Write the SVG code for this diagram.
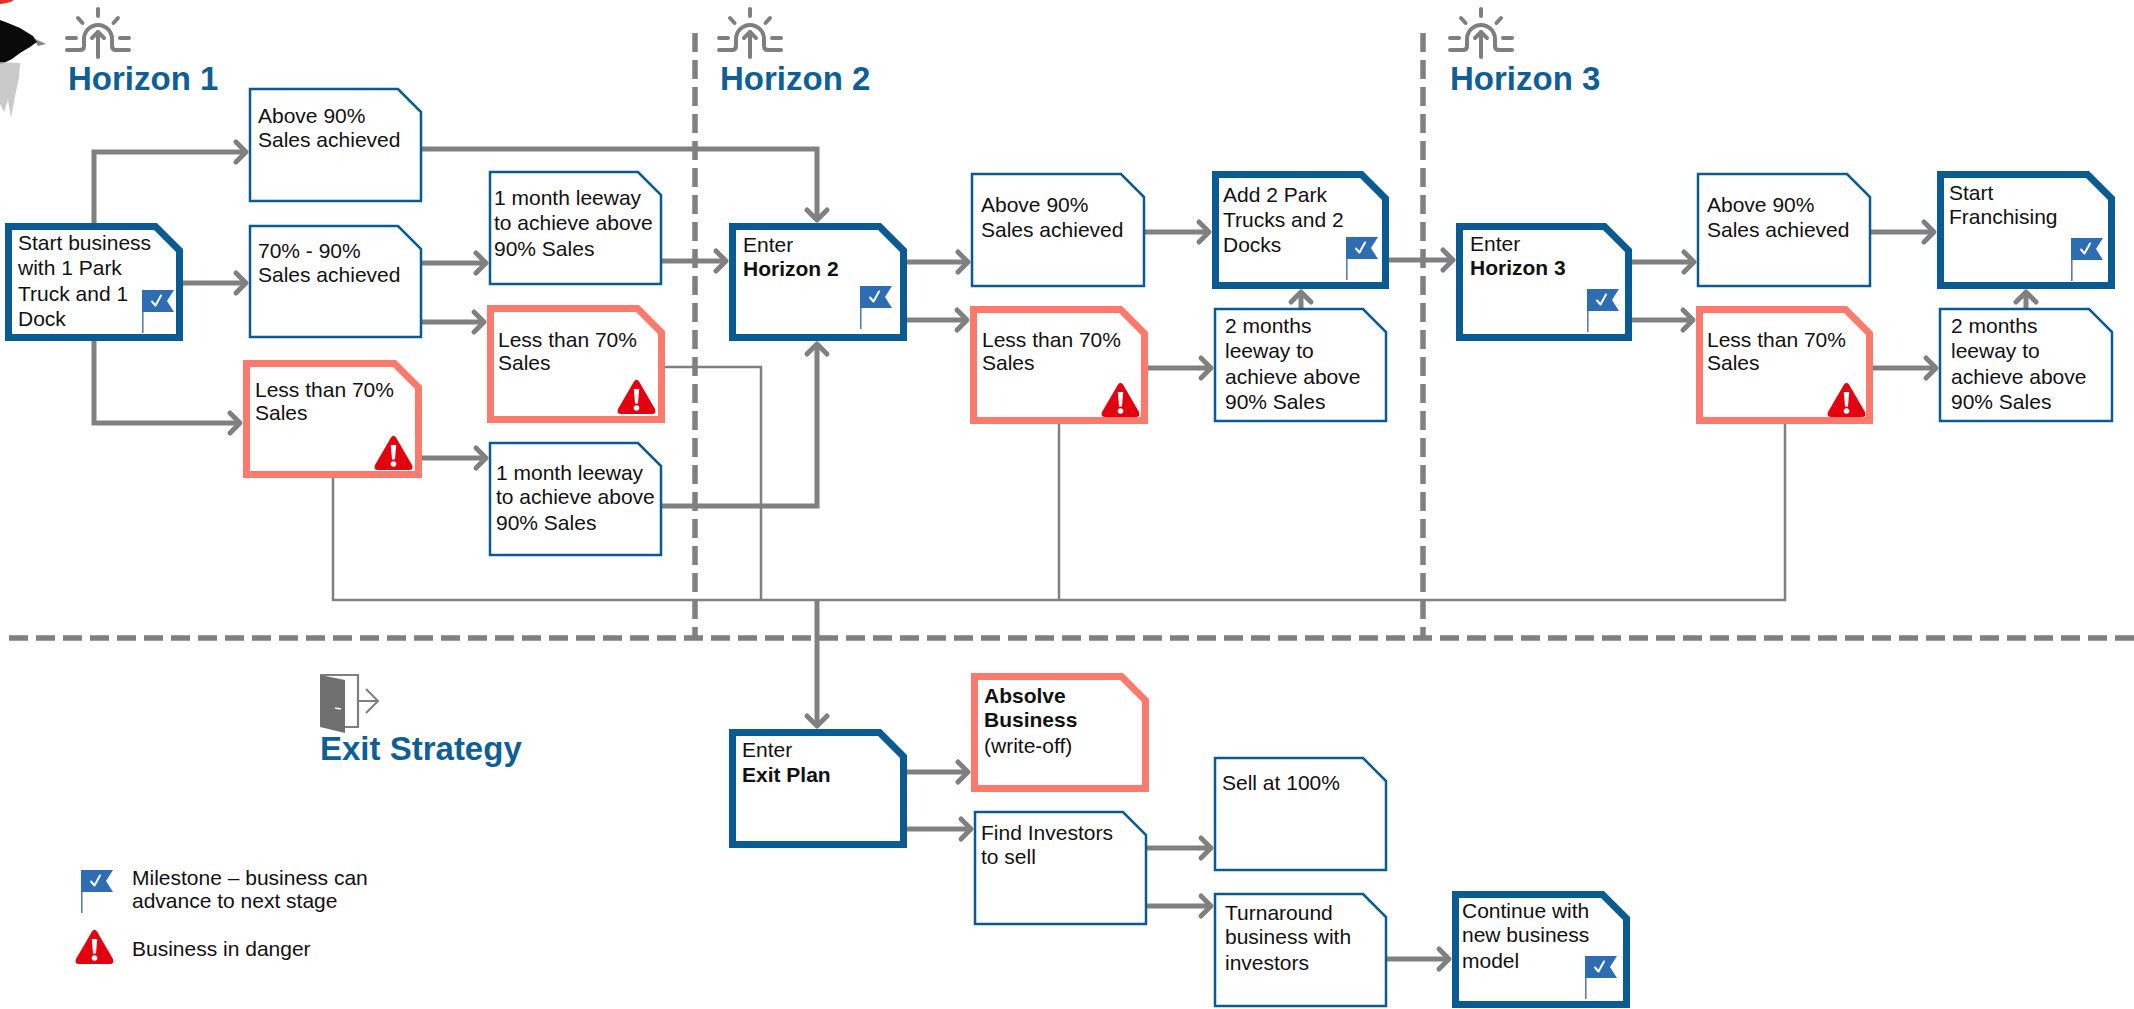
<svg xmlns="http://www.w3.org/2000/svg" xmlns:xlink="http://www.w3.org/1999/xlink" width="2134" height="1009" viewBox="0 0 2134 1009">
  <style>
    text { font-family: "Liberation Sans", Arial, sans-serif; fill: #111; }
    .t { font-size: 21px; }
    .b { font-weight: bold; }
    .hdr { font-size: 33px; font-weight: bold; fill: #0f5f96; }
    .ms { fill: #fff; stroke: #0a5b92; stroke-width: 7; stroke-linejoin: miter; }
    .st { fill: #fff; stroke: #0a5b92; stroke-width: 2.5; }
    .dg { fill: #fff; stroke: #fa7b6d; stroke-width: 7; }
    .cn { fill: none; stroke: #808080; stroke-width: 5; }
    .cn-arr { marker-end: url(#arr); }
    .bus { fill: none; stroke: #808080; stroke-width: 2.5; }
    .div { fill: none; stroke: #808080; stroke-width: 5.5; stroke-dasharray: 19 8; }
    .ico { fill: none; stroke: #7f7f7f; stroke-width: 4; stroke-linecap: round; stroke-linejoin: round; }
  </style>
  <defs>
    <marker id="arr" viewBox="-14 -14 18 28" refX="0" refY="0" markerWidth="18" markerHeight="28" orient="auto" markerUnits="userSpaceOnUse" overflow="visible">
      <path d="M-10,-10 L0,0 L-10,10" fill="none" stroke="#808080" stroke-width="5" stroke-linecap="round" stroke-linejoin="round"/>
    </marker>
    <!-- milestone flag, origin = top-left of the cloth -->
    <g id="flag">
      <line x1="0.8" y1="0" x2="0.8" y2="43" stroke="#5d7fa6" stroke-width="1.6"/>
      <polygon points="0,0 32,0 25,11 32,22 0,22" fill="#2f6db2"/>
      <path d="M10,11.5 L13.5,15.5 L19,5.5" fill="none" stroke="#fff" stroke-width="2" stroke-linecap="round" stroke-linejoin="round"/>
    </g>
    <!-- danger sign, origin = top-left of the triangle box (39 x 35) -->
    <g id="warn">
      <path d="M17,2.5 Q19.5,-1 22,2.5 L38,30 Q40,35 34.5,35 L4.5,35 Q-1,35 1,30 Z" fill="#e3000f"/>
      <path d="M16.8,10 L22.2,10 L21,24.5 L18,24.5 Z" fill="#fff"/>
      <circle cx="19.5" cy="29" r="2.8" fill="#fff"/>
    </g>
    <!-- rising sun heading icon, origin = centre of the ray fan -->
    <g id="sun" class="ico">
      <line x1="0" y1="-29" x2="0" y2="-22"/>
      <line x1="-20" y1="-20" x2="-15.5" y2="-15"/>
      <line x1="20" y1="-20" x2="15.5" y2="-15"/>
      <line x1="-31" y1="0" x2="-22" y2="0"/>
      <line x1="22" y1="0" x2="31" y2="0"/>
      <path d="M-31,12 H-18 Q-14,12 -14,8 V1 A14,14 0 0 1 14,1 V8 Q14,12 18,12 H31"/>
      <line x1="0" y1="19" x2="0" y2="-6"/>
      <path d="M-6,0 L0,-6 L6,0"/>
    </g>
  </defs>

  <rect x="0" y="0" width="2134" height="1009" fill="#fff"/>

  <!-- ink brush mark in the top-left corner -->
  <g id="brush">
    <path d="M0,0 H14 Q10,3 0,4 Z" fill="#e0322b"/>
    <path d="M0,20 L8,23 L20,28 L33,36 L37,42 L30,47 L20,53 L12,59 L4,63 L0,64 Z" fill="#0a0a0a"/>
    <path d="M33,38 L46,44 L38,46 Z" fill="#333" opacity="0.6"/>
    <path d="M0,62 L20,63 L19,78 L15,96 L11,118 L8,100 L4,112 L0,104 Z" fill="#bdbdbd" opacity="0.8"/>
  </g>

  <!-- stage dividers -->
  <g id="dividers">
    <line class="div" x1="695" y1="33" x2="695" y2="638"/>
    <line class="div" x1="1423" y1="33" x2="1423" y2="638"/>
    <line class="div" x1="9" y1="638" x2="2134" y2="638"/>
  </g>

  <!-- headings -->
  <g id="heading-h1">
    <use xlink:href="#sun" href="#sun" x="98" y="38"/>
    <text class="hdr" x="68" y="90">Horizon 1</text>
  </g>
  <g id="heading-h2">
    <use xlink:href="#sun" href="#sun" x="750" y="38"/>
    <text class="hdr" x="720" y="90">Horizon 2</text>
  </g>
  <g id="heading-h3">
    <use xlink:href="#sun" href="#sun" x="1481" y="38"/>
    <text class="hdr" x="1450" y="90">Horizon 3</text>
  </g>
  <g id="heading-exit">
    <path d="M320,675 H358 V727 H345" fill="none" stroke="#7f7f7f" stroke-width="2.2"/>
    <path d="M320,675 L345,680 L345,733 L320,727 Z" fill="#6f6f6f"/>
    <line x1="335" y1="708" x2="341" y2="709" stroke="#fff" stroke-width="1.5"/>
    <path d="M358,701 H378 M366,689 L378,701 L366,713" fill="none" stroke="#7f7f7f" stroke-width="2" stroke-linejoin="round"/>
    <text class="hdr" x="320" y="760">Exit Strategy</text>
  </g>

  <!-- connectors -->
  <g id="connectors">
    <path class="cn cn-arr" d="M94,223 V152 H246"/>
    <path class="cn cn-arr" d="M183,283 H246"/>
    <path class="cn cn-arr" d="M94,341 V423 H240"/>
    <path class="cn cn-arr" d="M422,149 H817 V220"/>
    <path class="cn cn-arr" d="M422,263 H486"/>
    <path class="cn cn-arr" d="M422,322 H484"/>
    <path class="cn cn-arr" d="M422,458 H486"/>
    <path class="cn cn-arr" d="M662,261 H726"/>
    <path class="cn cn-arr" d="M662,506 H817 V344"/>
    <path class="bus" d="M333,478 V600 H1785 V424"/>
    <path class="bus" d="M665,367 H761 V600"/>
    <path class="bus" d="M1059,424 V600"/>
    <path class="cn cn-arr" d="M817,600 V726"/>
    <path class="cn cn-arr" d="M907,262 H968"/>
    <path class="cn cn-arr" d="M907,320 H967"/>
    <path class="cn cn-arr" d="M1145,232 H1209"/>
    <path class="cn cn-arr" d="M1148,368 H1211"/>
    <path class="cn cn-arr" d="M1301,308 V292"/>
    <path class="cn cn-arr" d="M1389,260 H1453"/>
    <path class="cn cn-arr" d="M1632,262 H1694"/>
    <path class="cn cn-arr" d="M1632,320 H1693"/>
    <path class="cn cn-arr" d="M1871,232 H1934"/>
    <path class="cn cn-arr" d="M1873,368 H1936"/>
    <path class="cn cn-arr" d="M2026,308 V292"/>
    <path class="cn cn-arr" d="M907,772 H968"/>
    <path class="cn cn-arr" d="M907,829 H971"/>
    <path class="cn cn-arr" d="M1147,848 H1211"/>
    <path class="cn cn-arr" d="M1147,906 H1211"/>
    <path class="cn cn-arr" d="M1387,959 H1449"/>
  </g>

  <!-- Horizon 1 -->
  <g id="start">
    <path class="ms" d="M8.5,226.5 H155.5 L179.5,250.5 V337.5 H8.5 Z"/>
    <text class="t" x="18"><tspan x="18" y="250">Start business</tspan><tspan x="18" y="275">with 1 Park</tspan><tspan x="18" y="301">Truck and 1</tspan><tspan x="18" y="326">Dock</tspan></text>
    <use xlink:href="#flag" href="#flag" x="142" y="290"/>
  </g>
  <g id="h1-above90">
    <path class="st" d="M250,89 H398 L421,112 V201 H250 Z"/>
    <text class="t"><tspan x="258" y="123">Above 90%</tspan><tspan x="258" y="147">Sales achieved</tspan></text>
  </g>
  <g id="h1-70to90">
    <path class="st" d="M250,226 H398 L421,249 V337 H250 Z"/>
    <text class="t"><tspan x="258" y="258">70% - 90%</tspan><tspan x="258" y="282">Sales achieved</tspan></text>
  </g>
  <g id="h1-below70">
    <path class="dg" d="M246.5,363.5 H394.5 L418.5,387.5 V474.5 H246.5 Z"/>
    <text class="t"><tspan x="255" y="397">Less than 70%</tspan><tspan x="255" y="420">Sales</tspan></text>
    <use xlink:href="#warn" href="#warn" x="374" y="435"/>
  </g>
  <g id="h1-leeway-a">
    <path class="st" d="M490,172 H638 L661,195 V284 H490 Z"/>
    <text class="t"><tspan x="494" y="205">1 month leeway</tspan><tspan x="494" y="230">to achieve above</tspan><tspan x="494" y="256">90% Sales</tspan></text>
  </g>
  <g id="h1-below70-b">
    <path class="dg" d="M490.5,308.5 H637.5 L661.5,332.5 V419.5 H490.5 Z"/>
    <text class="t"><tspan x="498" y="347">Less than 70%</tspan><tspan x="498" y="370">Sales</tspan></text>
    <use xlink:href="#warn" href="#warn" x="617" y="379"/>
  </g>
  <g id="h1-leeway-b">
    <path class="st" d="M490,443 H638 L661,466 V555 H490 Z"/>
    <text class="t"><tspan x="496" y="480">1 month leeway</tspan><tspan x="496" y="504">to achieve above</tspan><tspan x="496" y="530">90% Sales</tspan></text>
  </g>

  <!-- Horizon 2 -->
  <g id="enter-h2">
    <path class="ms" d="M732.5,226.5 H879.5 L903.5,250.5 V337.5 H732.5 Z"/>
    <text class="t"><tspan x="743" y="252">Enter</tspan><tspan class="b" x="743" y="276">Horizon 2</tspan></text>
    <use xlink:href="#flag" href="#flag" x="860" y="286"/>
  </g>
  <g id="h2-above90">
    <path class="st" d="M972,174 H1121 L1144,197 V286 H972 Z"/>
    <text class="t"><tspan x="981" y="212">Above 90%</tspan><tspan x="981" y="237">Sales achieved</tspan></text>
  </g>
  <g id="h2-below70">
    <path class="dg" d="M973.5,309.5 H1120.5 L1144.5,333.5 V420.5 H973.5 Z"/>
    <text class="t"><tspan x="982" y="347">Less than 70%</tspan><tspan x="982" y="370">Sales</tspan></text>
    <use xlink:href="#warn" href="#warn" x="1101" y="382"/>
  </g>
  <g id="h2-expand">
    <path class="ms" d="M1215.5,174.5 H1361.5 L1385.5,198.5 V285.5 H1215.5 Z"/>
    <text class="t"><tspan x="1223" y="202">Add 2 Park</tspan><tspan x="1223" y="227">Trucks and 2</tspan><tspan x="1223" y="252">Docks</tspan></text>
    <use xlink:href="#flag" href="#flag" x="1346" y="237"/>
  </g>
  <g id="h2-leeway">
    <path class="st" d="M1215,309 H1363 L1386,332 V421 H1215 Z"/>
    <text class="t"><tspan x="1225" y="333">2 months</tspan><tspan x="1225" y="358">leeway to</tspan><tspan x="1225" y="384">achieve above</tspan><tspan x="1225" y="409">90% Sales</tspan></text>
  </g>

  <!-- Horizon 3 -->
  <g id="enter-h3">
    <path class="ms" d="M1459.5,226.5 H1604.5 L1628.5,250.5 V337.5 H1459.5 Z"/>
    <text class="t"><tspan x="1470" y="251">Enter</tspan><tspan class="b" x="1470" y="275">Horizon 3</tspan></text>
    <use xlink:href="#flag" href="#flag" x="1587" y="289"/>
  </g>
  <g id="h3-above90">
    <path class="st" d="M1698,174 H1847 L1870,197 V286 H1698 Z"/>
    <text class="t"><tspan x="1707" y="212">Above 90%</tspan><tspan x="1707" y="237">Sales achieved</tspan></text>
  </g>
  <g id="h3-below70">
    <path class="dg" d="M1699.5,309.5 H1845.5 L1869.5,333.5 V420.5 H1699.5 Z"/>
    <text class="t"><tspan x="1707" y="347">Less than 70%</tspan><tspan x="1707" y="370">Sales</tspan></text>
    <use xlink:href="#warn" href="#warn" x="1827" y="382"/>
  </g>
  <g id="h3-franchise">
    <path class="ms" d="M1940.5,174.5 H2087.5 L2111.5,198.5 V285.5 H1940.5 Z"/>
    <text class="t"><tspan x="1949" y="200">Start</tspan><tspan x="1949" y="224">Franchising</tspan></text>
    <use xlink:href="#flag" href="#flag" x="2071" y="238"/>
  </g>
  <g id="h3-leeway">
    <path class="st" d="M1940,309 H2089 L2112,332 V421 H1940 Z"/>
    <text class="t"><tspan x="1951" y="333">2 months</tspan><tspan x="1951" y="358">leeway to</tspan><tspan x="1951" y="384">achieve above</tspan><tspan x="1951" y="409">90% Sales</tspan></text>
  </g>

  <!-- Exit strategy -->
  <g id="enter-exit">
    <path class="ms" d="M732.5,732.5 H879.5 L903.5,756.5 V844.5 H732.5 Z"/>
    <text class="t"><tspan x="742" y="757">Enter</tspan><tspan class="b" x="742" y="782">Exit Plan</tspan></text>
  </g>
  <g id="exit-absolve">
    <path class="dg" d="M974.5,676.5 H1121.5 L1145.5,700.5 V788.5 H974.5 Z"/>
    <text class="t"><tspan class="b" x="984" y="703">Absolve</tspan><tspan class="b" x="984" y="727">Business</tspan><tspan x="984" y="753">(write-off)</tspan></text>
  </g>
  <g id="exit-investors">
    <path class="st" d="M975,812 H1123 L1146,835 V924 H975 Z"/>
    <text class="t"><tspan x="981" y="840">Find Investors</tspan><tspan x="981" y="864">to sell</tspan></text>
  </g>
  <g id="exit-sell">
    <path class="st" d="M1215,758 H1363 L1386,781 V870 H1215 Z"/>
    <text class="t" x="1222" y="790">Sell at 100%</text>
  </g>
  <g id="exit-turnaround">
    <path class="st" d="M1215,894 H1363 L1386,917 V1006 H1215 Z"/>
    <text class="t"><tspan x="1225" y="920">Turnaround</tspan><tspan x="1225" y="944">business with</tspan><tspan x="1225" y="970">investors</tspan></text>
  </g>
  <g id="exit-continue">
    <path class="ms" d="M1455.5,894.5 H1602.5 L1626.5,918.5 V1004.5 H1455.5 Z"/>
    <text class="t"><tspan x="1462" y="918">Continue with</tspan><tspan x="1462" y="942">new business</tspan><tspan x="1462" y="968">model</tspan></text>
    <use xlink:href="#flag" href="#flag" x="1585" y="956"/>
  </g>

  <!-- legend -->
  <g id="legend">
    <use xlink:href="#flag" href="#flag" x="81" y="870"/>
    <text class="t"><tspan x="132" y="885">Milestone – business can</tspan><tspan x="132" y="908">advance to next stage</tspan></text>
    <use xlink:href="#warn" href="#warn" x="75" y="929"/>
    <text class="t" x="132" y="956">Business in danger</text>
  </g>
</svg>
